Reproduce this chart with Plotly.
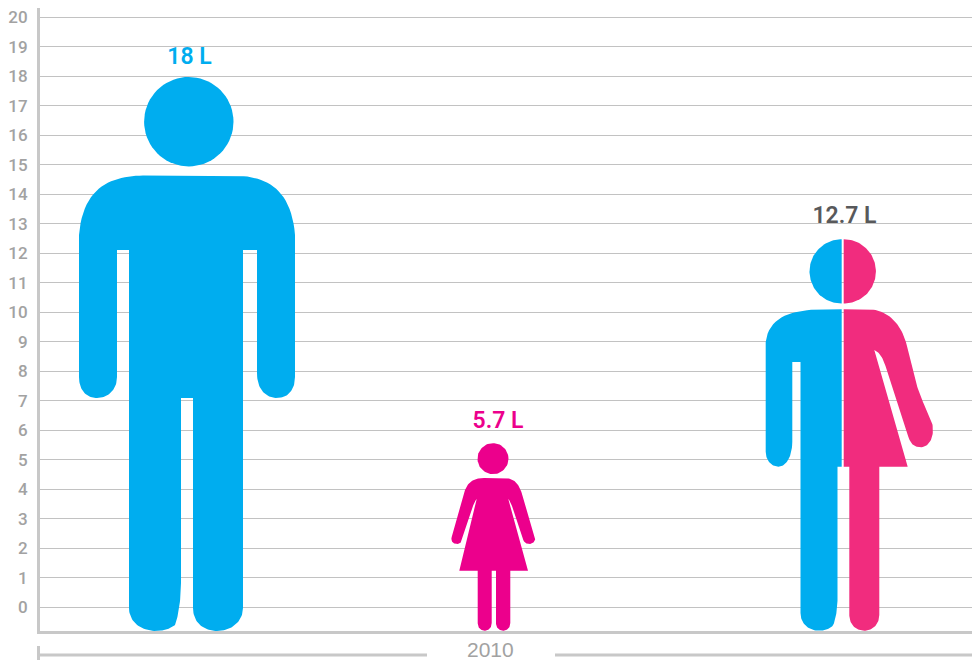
import math
import plotly.graph_objects as go

# ---- data ----
categories = ["Men", "Women", "Average"]
values = [18, 5.7, 12.7]
value_labels = ["18 L", "5.7 L", "12.7 L"]
tick_values = list(range(0, 21))
tick_labels = [str(t) for t in tick_values]
period_label = "2010"

# ---- style / layout ----
BLUE = "#00adef"
MAGENTA = "#ec008c"
ROSE = "#f12c7e"
DARK = "#58595b"
GRID = "#c2c2c2"
AXIS = "#c8c8c8"
TICK = "#a2a2a2"
W, H = 972, 660
L, T, B = 40, 8, 29
PX_PER_LITRE = 29.5
Y_MIN, Y_MAX = -0.803, 20.31
BASE_PX = 631.0   # the feet stand on the lower axis line


def sample(path, n=24):
    """Outline commands -> polyline. M/L: point, C: cubic, A: arc (cx, cy, r, a0, a1)."""
    pts = []
    for cmd in path:
        kind = cmd[0]
        if kind in "ML":
            pts.append((cmd[1], cmd[2]))
        elif kind == "C":
            x0, y0 = pts[-1]
            x1, y1, x2, y2, x3, y3 = cmd[1:]
            for i in range(1, n + 1):
                t = i / n
                u = 1 - t
                pts.append((u**3*x0 + 3*u*u*t*x1 + 3*u*t*t*x2 + t**3*x3,
                            u**3*y0 + 3*u*u*t*y1 + 3*u*t*t*y2 + t**3*y3))
        elif kind == "A":
            cx, cy, r, a0, a1 = cmd[1:]
            for i in range(73):
                a = math.radians(a0 + (a1 - a0) * i / 72)
                pts.append((cx + r * math.cos(a), cy + r * math.sin(a)))
    return pts


# Pictogram outlines, in drawing units of each figure's own artwork.
MAN = [
    [("A", 188.8, 121.8, 44.7, 0, 360)],
    [("M", 143, 175.7), ("L", 233, 175.7),
     ("C", 262, 176, 291, 185, 295, 235), ("L", 295, 377),
     ("C", 295, 390, 288, 398, 277, 398), ("C", 266, 398, 257, 390, 257, 373),
     ("L", 257, 250), ("L", 243, 250), ("L", 243, 608),
     ("C", 243, 622, 231, 631, 217, 631), ("C", 203, 631, 193, 622, 193, 608),
     ("L", 193, 398), ("L", 181, 398), ("L", 181, 583),
     ("C", 181, 600, 178, 618, 175, 625), ("C", 170, 629, 163, 631, 156, 631),
     ("C", 141, 631, 129, 622, 129, 608), ("L", 129, 250), ("L", 117, 250),
     ("L", 117, 377), ("C", 117, 390, 108, 398, 97, 398),
     ("C", 86, 398, 79, 390, 79, 377), ("L", 79, 235),
     ("C", 83, 185, 114, 176, 143, 175.7)],
]
WOMAN = [
    [("A", 493, 458.7, 15.5, 0, 360)],
    [("M", 484, 478), ("L", 503, 478),
     ("C", 513, 478, 518, 482, 521.7, 493), ("L", 535, 536.7),
     ("C", 536, 541, 533, 544, 529.3, 544), ("C", 526, 544, 524, 542, 523.3, 540),
     ("L", 512, 506), ("C", 511, 503, 510, 501, 508.3, 499),
     ("L", 528, 570.7), ("L", 510.3, 570.7), ("L", 510.3, 623),
     ("C", 510.3, 628, 507, 630.7, 503.2, 630.7), ("C", 499.4, 630.7, 496, 628, 496, 623),
     ("L", 496, 570.7), ("L", 491.7, 570.7), ("L", 491.7, 623),
     ("C", 491.7, 628, 488.5, 630.7, 484.7, 630.7), ("C", 481, 630.7, 477.7, 628, 477.7, 623),
     ("L", 477.7, 570.7), ("L", 459.3, 570.7), ("L", 476.7, 499),
     ("C", 475, 501, 474, 503, 473, 506), ("L", 462.3, 540),
     ("C", 461, 543, 459.5, 544, 456.7, 544), ("C", 453, 544, 450.5, 541, 451.7, 537),
     ("L", 465, 490), ("C", 468, 482, 474, 478, 484, 478)],
]
MIX_BLUE = [
    [("A", 841.7, 271.5, 32.2, 90, 270)],
    [("M", 841.7, 309.3), ("C", 815, 309.5, 770, 306, 765.7, 342),
     ("L", 765.7, 451.7),
     ("C", 765.7, 460, 771, 466.7, 778.3, 466.7), ("C", 787, 466.7, 792.3, 455, 792.3, 441.7),
     ("L", 792.3, 362), ("L", 800.5, 362), ("L", 800.5, 613),
     ("C", 800.5, 624, 809, 630.7, 819.3, 630.7), ("C", 825, 630.7, 830, 629, 833.3, 625),
     ("C", 836, 618, 837.5, 608, 837.5, 600), ("L", 837.5, 466.7),
     ("L", 841.7, 466.7)],
]
MIX_ROSE = [
    [("A", 843.7, 271.5, 32.2, -90, 90)],
    [("M", 843.7, 309.3), ("L", 866.7, 309.3),
     ("C", 885, 309.3, 900, 320, 906.7, 345), ("C", 910, 358, 912, 372, 916.7, 385),
     ("C", 921, 400, 928, 412, 931.7, 421.7), ("C", 935, 432, 932, 447.3, 920, 447.3),
     ("C", 913, 447.3, 910, 442, 908.3, 436.7), ("L", 885.5, 366),
     ("C", 883, 358, 880, 353, 874.3, 350), ("L", 907.7, 466.7),
     ("L", 879.3, 466.7), ("L", 879.3, 615),
     ("C", 879.3, 624, 873, 630.7, 864.3, 630.7), ("C", 855.5, 630.7, 849.3, 624, 849.3, 615),
     ("L", 849.3, 466.7), ("L", 843.7, 466.7)],
]

# category -> (centre in axis units, artwork centre, artwork parts with colours, label colour)
artwork = {
    "Men": (147.0, 187.0, [(MAN, BLUE)], BLUE),
    "Women": (453.5, 493.5, [(WOMAN, MAGENTA)], MAGENTA),
    "Average": (803.0, 843.0, [(MIX_BLUE, BLUE), (MIX_ROSE, ROSE)], DARK),
}
ref_height = {"Men": 18, "Women": 5.7, "Average": 12.7}
label_x = {"Men": 149.5, "Women": 458.0, "Average": 804.5}
label_gap = {"Men": 0.6, "Women": 0.57, "Average": 0.53}

fig = go.Figure()

for cat, val, lab in zip(categories, values, value_labels):
    cx, art_cx, parts, text_col = artwork[cat]
    scale = (val - Y_MIN) / (ref_height[cat] - Y_MIN)  # figure height follows the value
    for part, colour in parts:
        for piece in part:
            pts = sample(piece)
            xs = [cx + (p[0] - art_cx) * scale for p in pts]
            ys = [Y_MIN + (BASE_PX - p[1]) * scale / PX_PER_LITRE for p in pts]
            fig.add_trace(go.Scatter(x=xs, y=ys, mode="lines", fill="toself",
                                     fillcolor=colour, line=dict(width=0),
                                     hoverinfo="skip", showlegend=False))
    fig.add_trace(go.Scatter(x=[label_x[cat]], y=[val + label_gap[cat]], mode="text", text=[lab],
                             textposition="middle center",
                             textfont=dict(family="Roboto", size=23,
                                           color=text_col, weight=600),
                             hoverinfo="skip", showlegend=False))


def py(p):
    return (H - B - p) / (H - B - T)


def px(p):
    return (p - L) / (W - L)


bracket = dict(color=AXIS, width=3)
shapes = [
    dict(type="line", xref="paper", yref="paper", x0=px(38), x1=px(427), y0=py(655), y1=py(655), line=bracket),
    dict(type="line", xref="paper", yref="paper", x0=px(555), x1=px(972), y0=py(655), y1=py(655), line=bracket),
    dict(type="line", xref="paper", yref="paper", x0=px(38.5), x1=px(38.5), y0=py(646), y1=py(660), line=dict(color=AXIS, width=3)),
]

fig.update_layout(
    width=W, height=H, paper_bgcolor="white", plot_bgcolor="white",
    margin=dict(l=L, r=0, t=T, b=B, pad=0), showlegend=False,
    xaxis=dict(range=[0, W - L], visible=True, showticklabels=False, ticks="",
               showgrid=False, zeroline=False, showline=True, linecolor=AXIS, linewidth=3),
    yaxis=dict(range=[Y_MIN, Y_MAX], tickvals=tick_values, ticktext=tick_labels, ticks="",
               showgrid=True, gridcolor=GRID, gridwidth=1, zeroline=False,
               showline=True, linecolor=AXIS, linewidth=3, ticklabelstandoff=6,
               tickfont=dict(family="Roboto", size=17, color=TICK, weight=500)),
    shapes=shapes,
    annotations=[dict(xref="paper", yref="paper", x=px(490), y=py(649.5), text=period_label, showarrow=False,
                      xanchor="center", yanchor="middle",
                      font=dict(family="Liberation Sans", size=21, color=TICK))],
)

fig.write_html("out.html", config={"displayModeBar": False},
               post_script="document.body.style.margin='0';")
